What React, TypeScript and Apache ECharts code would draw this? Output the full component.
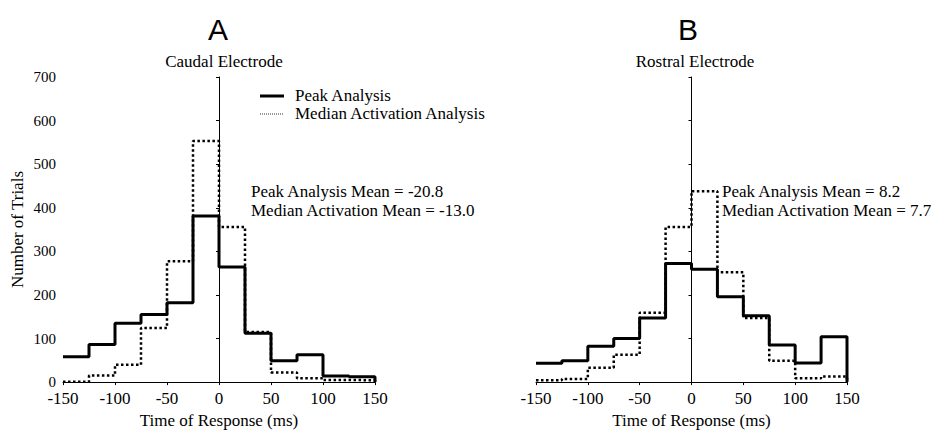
import React, { useEffect, useRef } from "react";
import * as echarts from "echarts";

const binEdges = [-150, -125, -100, -75, -50, -25, 0, 25, 50, 75, 100, 125, 150];
const caudalPeak = [58, 86, 135, 155, 182, 381, 264, 112, 49, 63, 14, 12];
const caudalMedian = [1, 15, 40, 124, 277, 553, 356, 115, 22, 9, 5, 4];
const rostralPeak = [43, 49, 82, 100, 147, 272, 259, 196, 152, 85, 44, 104];
const rostralMedian = [4, 7, 33, 63, 159, 356, 438, 252, 147, 49, 9, 13];
const panelLetters = ["A", "B"];
const panelTitles = ["Caudal Electrode", "Rostral Electrode"];
const seriesNames = ["Peak Analysis", "Median Activation Analysis"];
const caudalNotes = ["Peak Analysis Mean = -20.8", "Median Activation Mean = -13.0"];
const rostralNotes = ["Peak Analysis Mean = 8.2", "Median Activation Mean = 7.7"];

const SERIF = "'Liberation Serif', 'DejaVu Serif', serif";
const SANS = "'Liberation Sans', Arial, sans-serif";

function toSteps(values: number[]) {
  const pts: number[][] = values.map((v, i) => [binEdges[i], v]);
  pts.push([binEdges[binEdges.length - 1], 0]);
  return pts;
}

export default function App() {
  const ref = useRef<HTMLDivElement>(null);
  useEffect(() => {
    if (!ref.current) return;
    const chart = echarts.init(ref.current, undefined, { renderer: "svg" });
    const grids = [
      { left: 63, top: 77, width: 312, height: 312 },
      { left: 536, top: 77, width: 311, height: 312 },
    ];
    const xAxes = grids.map((_, i) => ({
      type: "value",
      gridIndex: i,
      min: -150,
      max: 150,
      interval: 50,
      name: "Time of Response (ms)",
      nameLocation: "middle",
      nameGap: 27,
      nameTextStyle: { fontFamily: SERIF, fontSize: 17, color: "#000" },
      axisLine: { show: true, lineStyle: { color: "#000", width: 1 } },
      axisTick: { show: true, length: 3, lineStyle: { color: "#000" } },
      axisLabel: { fontFamily: SERIF, fontSize: 17, lineHeight: 17, color: "#000", margin: 8 },
      splitLine: { show: false },
    }));
    const yAxes = grids.map((_, i) => ({
      type: "value",
      gridIndex: i,
      min: 0,
      max: 700,
      interval: 100,
      name: i === 0 ? "Number of Trials" : "",
      nameLocation: "middle",
      nameGap: 37,
      nameTextStyle: { fontFamily: SERIF, fontSize: 17, color: "#000" },
      axisLine: { show: true, lineStyle: { color: "#000", width: 1 } },
      axisTick: { show: true, length: 3, lineStyle: { color: "#000" } },
      axisLabel: { show: i === 0, fontFamily: SERIF, fontSize: 15, lineHeight: 13, color: "#000", margin: 7 },
      splitLine: { show: false },
    }));
    const mk = (name: string, values: number[], idx: number, dotted: boolean, withZero: boolean) => ({
      name,
      type: "line",
      xAxisIndex: idx,
      yAxisIndex: idx,
      step: "end",
      symbol: "none",
      data: toSteps(values),
      z: dotted ? 3 : 2,
      lineStyle: dotted
        ? { color: "#000", width: 2.5, type: [2.5, 2.5] }
        : { color: "#000", width: 3, type: "solid" },
      itemStyle: { color: "#000" },
      markLine: withZero
        ? {
            silent: true,
            symbol: "none",
            label: { show: false },
            lineStyle: { color: "#000", width: 1, type: "solid" },
            data: [{ xAxis: 0 }],
          }
        : undefined,
    });
    const noteText = (notes: string[], x: number) =>
      notes.map((t, j) => ({
        type: "text",
        left: x,
        top: 183 + j * 19,
        style: { text: t, font: `17px ${SERIF}`, fill: "#000" },
      }));
    const legendGraphic = [
      { type: "line", shape: { x1: 260, y1: 96, x2: 284, y2: 96 }, style: { stroke: "#000", lineWidth: 3 } },
      { type: "line", shape: { x1: 260, y1: 114, x2: 284, y2: 114 }, style: { stroke: "#333", lineWidth: 1, lineDash: [1, 1] } },
      { type: "text", left: 295, top: 87, style: { text: seriesNames[0], font: `17px ${SERIF}`, fill: "#000" } },
      { type: "text", left: 295, top: 105, style: { text: seriesNames[1], font: `17px ${SERIF}`, fill: "#000" } },
    ];
    chart.setOption({
      animation: false,
      backgroundColor: "#fff",
      grid: grids,
      xAxis: xAxes,
      yAxis: yAxes,
      title: [
        { text: panelLetters[0], left: 213, top: 9, textAlign: "center", textStyle: { fontFamily: SANS, fontSize: 30, fontWeight: "normal", color: "#000" } },
        { text: panelLetters[1], left: 683, top: 9, textAlign: "center", textStyle: { fontFamily: SANS, fontSize: 30, fontWeight: "normal", color: "#000" } },
        { text: panelTitles[0], left: 219, top: 48, textAlign: "center", textStyle: { fontFamily: SERIF, fontSize: 17, fontWeight: "normal", color: "#000" } },
        { text: panelTitles[1], left: 690, top: 48, textAlign: "center", textStyle: { fontFamily: SERIF, fontSize: 17, fontWeight: "normal", color: "#000" } },
      ],
      graphic: [...legendGraphic, ...noteText(caudalNotes, 251), ...noteText(rostralNotes, 722)],
      series: [
        mk(seriesNames[0], caudalPeak, 0, false, true),
        mk(seriesNames[1], caudalMedian, 0, true, false),
        mk(seriesNames[0], rostralPeak, 1, false, true),
        mk(seriesNames[1], rostralMedian, 1, true, false),
      ],
    });
    return () => chart.dispose();
  }, []);
  return <div ref={ref} style={{ position: "absolute", left: 0, top: 0, width: 934, height: 434 }} />;
}
